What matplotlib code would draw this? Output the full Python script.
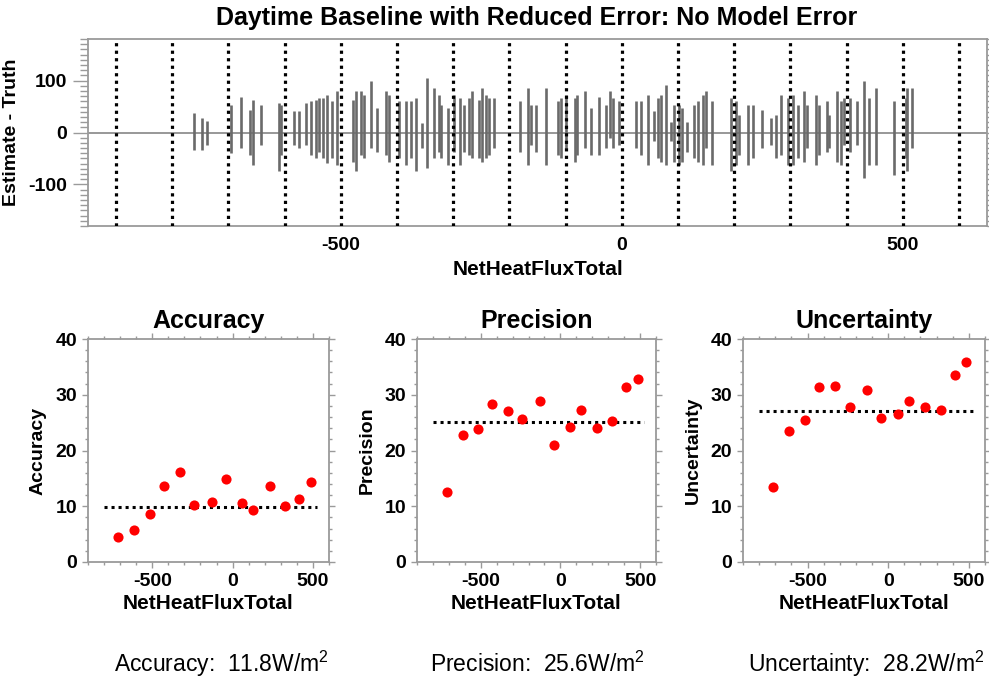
import matplotlib
matplotlib.use("Agg")
import matplotlib.pyplot as plt
from matplotlib.ticker import MultipleLocator
import numpy as np

plt.rcParams['font.family'] = ['Liberation Sans', 'DejaVu Sans']
plt.rcParams['axes.unicode_minus'] = False
plt.rcParams['mathtext.default'] = 'regular'

# ---------------- data ----------------
title = "Daytime Baseline with Reduced Error: No Model Error"
xlabel = "NetHeatFluxTotal"

# top panel: vertical strips of (Estimate - Truth) points, x position and dense extent
strip_x = [-762, -747, -738, -696, -677, -662, -657, -642, -610, -606, -584, -574, -562,
           -553, -544, -539, -531, -524, -515, -507, -479, -473, -464, -458, -447, -435,
           -420, -414, -396, -384, -375, -367, -356, -346, -334, -326,
           -322, -310, -299, -288, -281, -272, -266, -254, -248, -242, -236, -227, -181,
           -167, -162, -153, -135, -114, -109, -100,
           -84, -79, -66, -55, -41, -28, -21, -15, -5, 25, 34, 47, 57, 65, 69, 78, 87,
           93, 102, 108, 116, 129,
           136, 144, 149, 161, 194, 203, 209, 224, 233, 249, 265, 274, 283, 295, 304,
           313, 324, 330, 345, 351, 366,
           369, 383, 390, 396, 407, 418, 431, 440, 452, 485, 505, 508, 517]
strip_hi = [37, 28, 22, 53, 69, 44, 63, 53, 57, 53, 41, 41, 57,
            60, 63, 66, 66, 73, 60, 79, 63, 79, 79, 73, 99, 47,
            79, 73, 60, 60, 60, 66, 18, 105, 85, 73,
            53, 47, 73, 66, 53, 66, 79, 63, 85, 73, 66, 66, 60,
            85, 53, 53, 85, 60, 66, 73,
            66, 73, 79, 47, 69, 53, 79, 66, 60, 60, 60, 73, 41, 66, 73, 92, 21,
            53, 53, 47, 21, 53,
            60, 73, 79, 60, 66, 60, 34, 53, 53, 43, 27, 34, 73, 66, 73,
            53, 79, 53, 73, 53, 60,
            34, 79, 60, 66, 66, 60, 99, 66, 85, 60, 66, 85, 85]
strip_lo = [-34, -34, -24, -40, -30, -43, -63, -24, -75, -43, -24, -30, -24,
            -43, -50, -37, -50, -59, -50, -63, -56, -75, -43, -50, -30, -37,
            -43, -56, -50, -63, -50, -75, -30, -69, -50, -37,
            -50, -63, -37, -63, -37, -43, -50, -50, -56, -50, -43, -30, -37,
            -63, -24, -37, -63, -43, -50, -30,
            -56, -43, -30, -43, -43, -30, -11, -30, -24, -30, -43, -63, -17, -50, -56, -63, -17,
            -56, -63, -56, -37, -50,
            -56, -63, -30, -63, -75, -63, -43, -63, -50, -30, -24, -50, -43, -63, -63,
            -50, -56, -30, -63, -43, -37,
            -30, -56, -63, -24, -37, -24, -88, -63, -63, -82, -50, -75, -30]

bin_x = [-712, -614, -516, -428, -330, -238, -130, -42, 58, 130, 230, 326, 413, 485]
accuracy = [4.4, 5.8, 8.6, 13.6, 16.1, 10.3, 10.8, 14.8, 10.5, 9.3, 13.7, 10.1, 11.3, 14.3]
precision = [12.6, 22.7, 23.9, 28.3, 27.1, 25.7, 28.8, 20.9, 24.2, 27.2, 24.0, 25.3, 31.4, 32.9]
uncertainty = [13.4, 23.5, 25.4, 31.4, 31.5, 27.8, 30.8, 25.8, 26.5, 28.9, 27.8, 27.2, 33.5, 35.9]
ref_levels = [9.8, 25.1, 27.0]
ref_xrange = [-800, 525]
panel_names = ["Accuracy", "Precision", "Uncertainty"]
summary_values = [11.8, 25.6, 28.2]
grid_x = list(range(-900, 601, 100))

# ---------------- figure ----------------
W, H = 989, 684
fig = plt.figure(figsize=(W / 100, H / 100), dpi=100)

def rect(l, t, r, b):
    return [l / W, 1 - b / H, (r - l) / W, (b - t) / H]

spine_col = '#9a9a9a'

ax = fig.add_axes(rect(88, 39, 987, 226))
ax.set_xlim(-950, 650)
ax.set_ylim(-180, 180)
ax.axhline(0, color='#909090', lw=1.3, zorder=1)
ax.vlines(strip_x, strip_lo, strip_hi, colors='#6a6a6a', lw=1.9, zorder=2)
for gx in grid_x:
    ax.axvline(gx, color='black', lw=2.3, linestyle=(0, (1, 1.35)), zorder=3)
ax.set_xticks([-500, 0, 500])
ax.set_yticks([-100, 0, 100])
ax.yaxis.set_minor_locator(MultipleLocator(10))
ax.tick_params(axis='x', length=0, pad=8, labelsize=14)
ax.tick_params(axis='y', which='major', length=11, width=1, color=spine_col, left=True, right=True, labelsize=14, pad=4)
ax.tick_params(axis='y', which='minor', length=5.5, width=1, color=spine_col, left=True, right=True)
for lab in ax.get_xticklabels() + ax.get_yticklabels():
    lab.set_fontweight('bold')
for s in ax.spines.values():
    s.set_color(spine_col)
    s.set_linewidth(1.3)
ax.set_xlabel(xlabel, fontsize=15, fontweight='bold', labelpad=4)
ax.set_ylabel("Estimate - Truth", fontsize=14, fontweight='bold', labelpad=6)
fig.text(537 / W, 1 - 18 / H, title, ha='center', va='center', fontsize=18, fontweight='bold')

panels = [(88, 329), (417, 656), (743, 985)]
series = [accuracy, precision, uncertainty]
centers = [221, 537, 866]
for i, ((l, r), vals) in enumerate(zip(panels, series)):
    a = fig.add_axes(rect(l, 339, r, 562))
    a.set_xlim(-900, 600)
    a.set_ylim(0, 40)
    a.plot(ref_xrange, [ref_levels[i]] * 2, color='black', lw=2.2, linestyle=(0, (1, 1.3)), zorder=2)
    a.plot(bin_x, vals, 'o', color='#ff0000', markersize=7.3, markeredgewidth=0, zorder=3)
    a.set_xticks([-500, 0, 500])
    a.xaxis.set_minor_locator(MultipleLocator(100))
    a.set_yticks([0, 10, 20, 30, 40])
    a.yaxis.set_minor_locator(MultipleLocator(2))
    a.tick_params(which='major', length=4, width=1, color=spine_col, top=True, right=True, labelsize=14, pad=4)
    a.tick_params(which='minor', length=2, width=1, color=spine_col, top=True, right=True)
    for lab in a.get_xticklabels() + a.get_yticklabels():
        lab.set_fontweight('bold')
    for s in a.spines.values():
        s.set_color(spine_col)
        s.set_linewidth(1.3)
    a.set_title(panel_names[i], fontsize=18, fontweight='bold', pad=8)
    a.set_xlabel(xlabel, fontsize=15, fontweight='bold', labelpad=3)
    a.set_ylabel(panel_names[i], fontsize=14, fontweight='bold', labelpad=6)
    fig.text(centers[i] / W, 1 - 664 / H,
             f"{panel_names[i]}:  {summary_values[i]:.1f}W/m$^2$",
             ha='center', va='center', fontsize=16.5,
             family=['Liberation Sans Narrow', 'Liberation Sans', 'DejaVu Sans'])

fig.savefig("out.png", dpi=100)
